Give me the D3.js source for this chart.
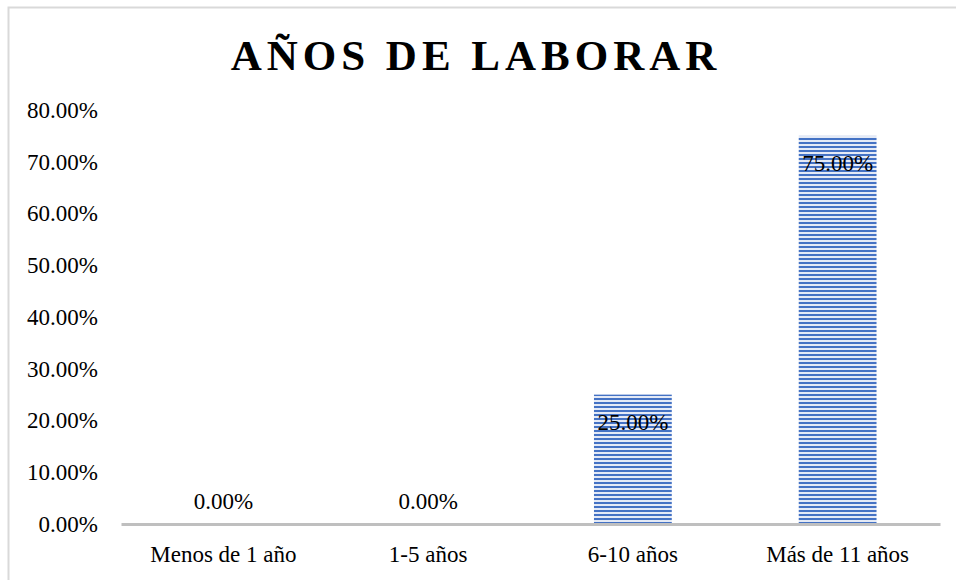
<!DOCTYPE html>
<html>
<head>
<meta charset="utf-8">
<script src="https://cdn.jsdelivr.net/npm/d3@7"></script>
<style>
  body { margin: 0; background: #fff; }
  text { font-family: "Liberation Serif", "Times New Roman", serif; fill: #000; }
</style>
</head>
<body>
<div id="chart"></div>
<script>
// chart data
var categories = ["Menos de 1 año", "1-5 años", "6-10 años", "Más de 11 años"];
var values = [0, 0, 0.25, 0.75];
var yTicks = [0, 0.1, 0.2, 0.3, 0.4, 0.5, 0.6, 0.7, 0.8];
var title = "AÑOS DE LABORAR";

var W = 956, H = 580;
var margin = { top: 110, right: 16, bottom: 56, left: 121 },
    width = W - margin.left - margin.right,
    height = H - margin.top - margin.bottom;

var svg = d3.select("#chart")
    .append("svg")
    .attr("width", W)
    .attr("height", H);

// outer chart border
svg.append("rect")
    .attr("x", 8.5).attr("y", 7.5)
    .attr("width", W + 20).attr("height", H + 20)
    .attr("fill", "none")
    .attr("stroke", "#d9d9d9")
    .attr("stroke-width", 2);

// striped fill like excel "narrow horizontal" pattern
var defs = svg.append("defs");
var pat = defs.append("pattern")
    .attr("id", "stripes")
    .attr("patternUnits", "userSpaceOnUse")
    .attr("width", 8).attr("height", 4);
pat.append("rect").attr("width", 8).attr("height", 4).attr("fill", "#e4eaf6");
pat.append("rect").attr("y", 0).attr("width", 8).attr("height", 2).attr("fill", "#4472c4");

svg.append("text")
    .attr("x", 476)
    .attr("y", 70)
    .attr("text-anchor", "middle")
    .style("font-size", "43px")
    .style("font-weight", "bold")
    .style("letter-spacing", "5px")
    .text(title);

var g = svg.append("g")
    .attr("transform", "translate(" + margin.left + "," + margin.top + ")");

var x = d3.scaleBand()
    .domain(categories)
    .range([0, width])
    .paddingInner(0.62)
    .paddingOuter(0.31);

var y = d3.scaleLinear()
    .domain([0, 0.8])
    .range([height, 0]);

var fs = "23px";

// y axis labels, no line
var yAxis = g.append("g")
    .call(d3.axisLeft(y).tickValues(yTicks).tickFormat(d3.format(".2%")).tickSize(0).tickPadding(23));
yAxis.select(".domain").remove();
yAxis.selectAll("text")
    .style("font-size", fs)
    .style("font-family", "Liberation Serif, serif");

// bars
g.selectAll(".bar")
    .data(values)
    .enter()
    .append("rect")
    .attr("class", "bar")
    .attr("x", function (d, i) { return x(categories[i]); })
    .attr("width", x.bandwidth())
    .attr("y", function (d) { return y(d); })
    .attr("height", function (d) { return height - y(d); })
    .attr("fill", "url(#stripes)");

// x axis
var xAxis = g.append("g")
    .attr("transform", "translate(0," + height + ")")
    .call(d3.axisBottom(x).tickSize(0).tickPadding(22));
xAxis.select(".domain")
    .attr("stroke", "#bfbfbf")
    .attr("stroke-width", 3);
xAxis.selectAll("text")
    .style("font-size", fs)
    .style("font-family", "Liberation Serif, serif");

// data labels
g.selectAll(".lbl")
    .data(values)
    .enter()
    .append("text")
    .attr("class", "lbl")
    .attr("x", function (d, i) { return x(categories[i]) + x.bandwidth() / 2; })
    .attr("y", function (d) { return d > 0 ? y(d) + 35 : y(d) - 15; })
    .attr("text-anchor", "middle")
    .style("font-size", fs)
    .text(function (d) { return d3.format(".2%")(d); });
</script>
</body>
</html>
